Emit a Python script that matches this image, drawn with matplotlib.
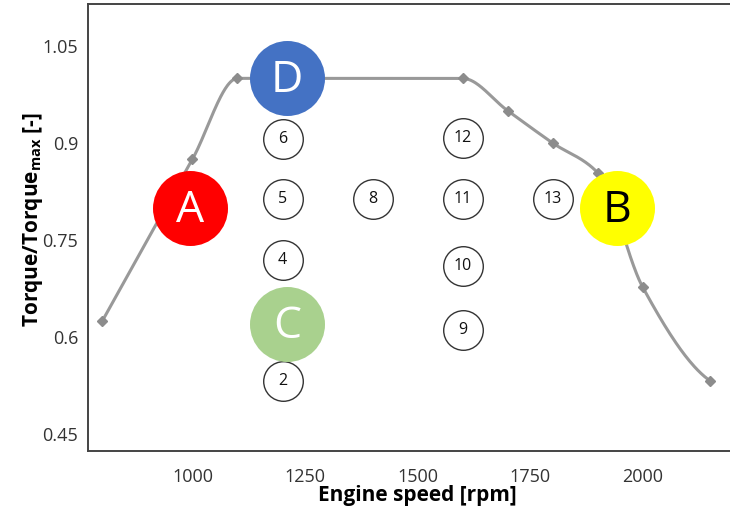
import numpy as np
import matplotlib
matplotlib.use("Agg")
import matplotlib.pyplot as plt

plt.rcParams['font.family'] = ['Open Sans', 'DejaVu Sans']
plt.rcParams['mathtext.fontset'] = 'custom'
plt.rcParams['mathtext.rm'] = 'Open Sans'

# Full-load torque curve (normalised)
curve_speed = [800, 1000, 1100, 1600, 1700, 1800, 1900, 2000, 2150]
curve_torque = [0.625, 0.875, 1.0, 1.0, 0.95, 0.9, 0.854, 0.677, 0.532]

# Numbered operating points
point_ids = ["2", "4", "5", "6", "8", "9", "10", "11", "12", "13"]
point_speed = [1200, 1200, 1200, 1200, 1400, 1600, 1600, 1600, 1600, 1800]
point_torque = [0.532, 0.719, 0.813, 0.906, 0.813, 0.611, 0.71, 0.813, 0.908, 0.813]

# Lettered reference points
letter_ids = ["A", "B", "C", "D"]
letter_speed = [995, 1942, 1210, 1210]
letter_torque = [0.80, 0.80, 0.62, 1.0]
letter_fill = ["#ff0000", "#ffff00", "#a9d18e", "#4472c4"]
letter_text = ["white", "black", "white", "white"]

x_ticks = [1000, 1250, 1500, 1750, 2000]
y_ticks = [0.45, 0.6, 0.75, 0.9, 1.05]
y_tick_labels = ["0.45", "0.6", "0.75", "0.9", "1.05"]

W, H = 730, 517
AX_W = W - 88 + 7.3
fig = plt.figure(figsize=(W / 100, H / 100), dpi=100)
ax = fig.add_axes([88 / W, (H - 451) / H, AX_W / W, (451 - 4) / H])
ax.set_xlim(768, 2210)
ax.set_ylim(0.4237, 1.115)


def pchip(xs, ys, n=60):
    """Shape-preserving piecewise cubic through the points."""
    x = np.asarray(xs, float)
    y = np.asarray(ys, float)
    h = np.diff(x)
    d = np.diff(y) / h
    m = np.zeros_like(y)
    for k in range(1, len(x) - 1):
        if d[k - 1] * d[k] > 0:
            w1 = 2 * h[k] + h[k - 1]
            w2 = h[k] + 2 * h[k - 1]
            m[k] = (w1 + w2) / (w1 / d[k - 1] + w2 / d[k])
    m[0] = ((2 * h[0] + h[1]) * d[0] - h[0] * d[1]) / (h[0] + h[1])
    if np.sign(m[0]) != np.sign(d[0]):
        m[0] = 0
    m[-1] = ((2 * h[-1] + h[-2]) * d[-1] - h[-1] * d[-2]) / (h[-1] + h[-2])
    if np.sign(m[-1]) != np.sign(d[-1]):
        m[-1] = 0
    xo, yo = [], []
    for k in range(len(x) - 1):
        t = np.linspace(0, 1, n)
        h00 = 2 * t ** 3 - 3 * t ** 2 + 1
        h10 = t ** 3 - 2 * t ** 2 + t
        h01 = -2 * t ** 3 + 3 * t ** 2
        h11 = t ** 3 - t ** 2
        xo.append(x[k] + t * h[k])
        yo.append(h00 * y[k] + h10 * h[k] * m[k] + h01 * y[k + 1] + h11 * h[k] * m[k + 1])
    return np.concatenate(xo), np.concatenate(yo)


sx_line, sy_line = pchip(curve_speed, curve_torque)
ax.plot(sx_line, sy_line, color="#999999", lw=2.2, zorder=2, solid_capstyle="round")
ax.plot(curve_speed, curve_torque, ls="none", marker="D", ms=5, color="#8c8c8c", zorder=3)

for lbl, sx, ty in zip(point_ids, point_speed, point_torque):
    ax.plot(sx, ty, marker="o", ms=28.5, mfc="white", mec="#333333", mew=1.0, zorder=4)
    ax.text(sx, ty, lbl, ha="center", va="center", fontsize=11.5, color="#111111", zorder=5)

for lbl, sx, ty, fc, tc in zip(letter_ids, letter_speed, letter_torque, letter_fill, letter_text):
    ax.plot(sx, ty, marker="o", ms=54, mfc=fc, mec="none", zorder=6)
    ax.text(sx, ty - 0.004, lbl, ha="center", va="center", fontsize=32, color=tc, zorder=7)

ax.set_xticks(x_ticks)
ax.set_xticklabels([str(v) for v in x_ticks])
ax.set_yticks(y_ticks)
ax.set_yticklabels(y_tick_labels)
ax.tick_params(axis="both", length=0, labelsize=13, labelcolor="#333333")
ax.tick_params(axis="x", pad=12)
ax.tick_params(axis="y", pad=7)

for side in ("left", "bottom", "top"):
    ax.spines[side].set_color("#444444")
    ax.spines[side].set_linewidth(1.4)
ax.spines["right"].set_visible(False)

ax.set_xlabel("Engine speed [rpm]", fontsize=15, fontweight="bold")
ax.set_ylabel(r"Torque/Torque$_{\mathregular{max}}$ [-]", fontsize=15, fontweight="bold")
ax.xaxis.set_label_coords((417 - 88) / AX_W, -(485 - 451) / 447)
ax.yaxis.set_label_coords((45 - 88) / AX_W, (451 - 220) / 447)

fig.savefig("out.png", dpi=100)
